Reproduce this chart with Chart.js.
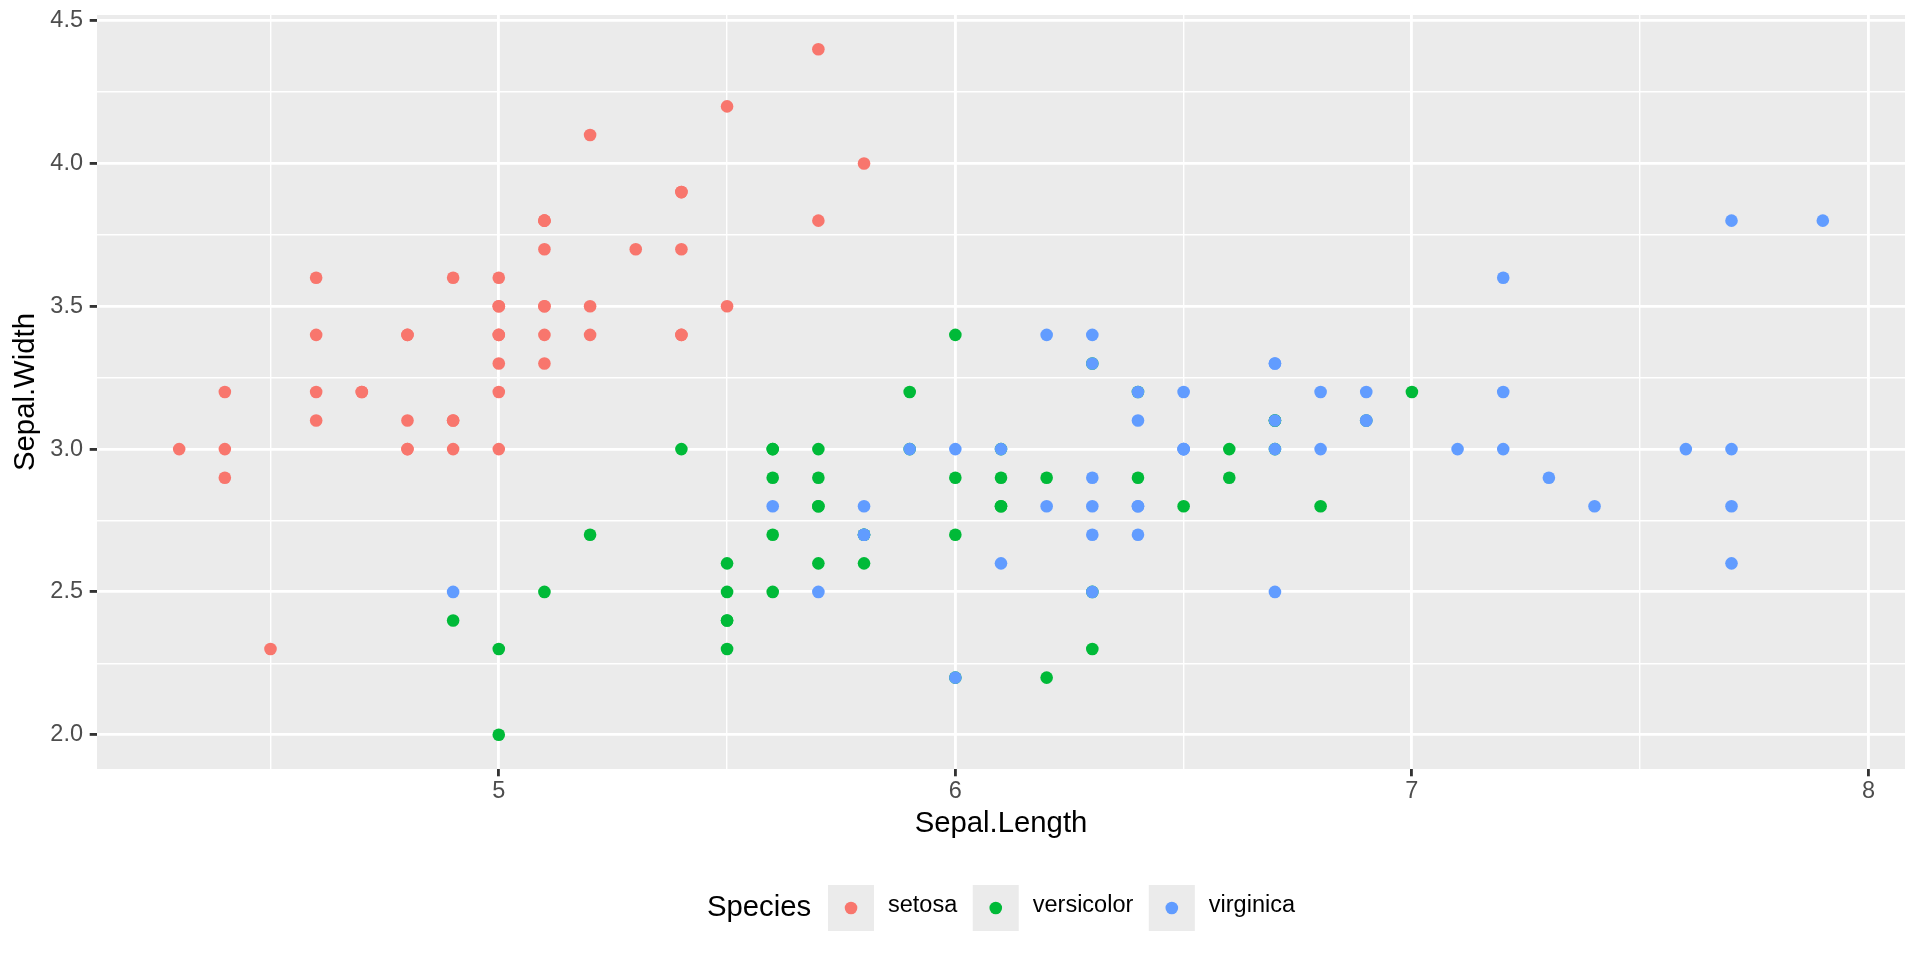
<!DOCTYPE html>
<html>
<head>
<meta charset="utf-8">
<script src="https://cdn.jsdelivr.net/npm/chart.js@4/dist/chart.umd.min.js"></script>
<style>
html,body{margin:0;padding:0;background:#ffffff;}
#c{display:block;}
</style>
</head>
<body>
<canvas id="c" width="1920" height="960"></canvas>
<script>
// ---- data (iris: Sepal.Length / Sepal.Width) ----
const species = ['setosa', 'versicolor', 'virginica'];
const speciesColors = ['#F8766D', '#00BA38', '#619CFF'];

const setosaLength = [5.1,4.9,4.7,4.6,5.0,5.4,4.6,5.0,4.4,4.9,5.4,4.8,4.8,4.3,5.8,5.7,5.4,5.1,5.7,5.1,5.4,5.1,4.6,5.1,4.8,5.0,5.0,5.2,5.2,4.7,4.8,5.4,5.2,5.5,4.9,5.0,5.5,4.9,4.4,5.1,5.0,4.5,4.4,5.0,5.1,4.8,5.1,4.6,5.3,5.0];
const setosaWidth  = [3.5,3.0,3.2,3.1,3.6,3.9,3.4,3.4,2.9,3.1,3.7,3.4,3.0,3.0,4.0,4.4,3.9,3.5,3.8,3.8,3.4,3.7,3.6,3.3,3.4,3.0,3.4,3.5,3.4,3.2,3.1,3.4,4.1,4.2,3.1,3.2,3.5,3.6,3.0,3.4,3.5,2.3,3.2,3.5,3.8,3.0,3.8,3.2,3.7,3.3];

const versicolorLength = [7.0,6.4,6.9,5.5,6.5,5.7,6.3,4.9,6.6,5.2,5.0,5.9,6.0,6.1,5.6,6.7,5.6,5.8,6.2,5.6,5.9,6.1,6.3,6.1,6.4,6.6,6.8,6.7,6.0,5.7,5.5,5.5,5.8,6.0,5.4,6.0,6.7,6.3,5.6,5.5,5.5,6.1,5.8,5.0,5.6,5.7,5.7,6.2,5.1,5.7];
const versicolorWidth  = [3.2,3.2,3.1,2.3,2.8,2.8,3.3,2.4,2.9,2.7,2.0,3.0,2.2,2.9,2.9,3.1,3.0,2.7,2.2,2.5,3.2,2.8,2.5,2.8,2.9,3.0,2.8,3.0,2.9,2.6,2.4,2.4,2.7,2.7,3.0,3.4,3.1,2.3,3.0,2.5,2.6,3.0,2.6,2.3,2.7,3.0,2.9,2.9,2.5,2.8];

const virginicaLength = [6.3,5.8,7.1,6.3,6.5,7.6,4.9,7.3,6.7,7.2,6.5,6.4,6.8,5.7,5.8,6.4,6.5,7.7,7.7,6.0,6.9,5.6,7.7,6.3,6.7,7.2,6.2,6.1,6.4,7.2,7.4,7.9,6.4,6.3,6.1,7.7,6.3,6.4,6.0,6.9,6.7,6.9,5.8,6.8,6.7,6.7,6.3,6.5,6.2,5.9];
const virginicaWidth  = [3.3,2.7,3.0,2.9,3.0,3.0,2.5,2.9,2.5,3.6,3.2,2.7,3.0,2.5,2.8,3.2,3.0,3.8,2.6,2.2,3.2,2.8,2.8,2.7,3.3,3.2,2.8,3.0,2.8,3.0,2.8,3.8,2.8,2.8,2.6,3.0,3.4,3.1,3.0,3.1,3.1,3.1,2.7,3.2,3.3,3.0,2.5,3.0,3.4,3.0];

const xMajorTicks = [5, 6, 7, 8];
const xMinorTicks = [4.5, 5.5, 6.5, 7.5];
const yMajorTicks = [2.0, 2.5, 3.0, 3.5, 4.0, 4.5];
const yMinorTicks = [2.25, 2.75, 3.25, 3.75, 4.25];
const xLimits = [4.12, 8.08];
const yLimits = [1.88, 4.52];
const xTitle = 'Sepal.Length';
const yTitle = 'Sepal.Width';
const legendTitle = 'Species';

// ---- helpers ----
const FAMILY = '"Liberation Sans", Arial, Helvetica, sans-serif';
const toPoints = (xs, ys) => xs.map((x, i) => ({ x: x, y: ys[i] }));
const isIn = (arr, v) => arr.some(a => Math.abs(a - v) < 1e-9);
const lengths = [setosaLength, versicolorLength, virginicaLength];
const widths = [setosaWidth, versicolorWidth, virginicaWidth];

const MAJOR_W = 2.85, MINOR_W = 1.42;

function gridFor(majors) {
  return {
    color: '#FFFFFF',
    lineWidth: ctx => (ctx.tick && isIn(majors, ctx.tick.value)) ? MAJOR_W : MINOR_W,
    drawTicks: true,
    tickLength: 7.3,
    tickWidth: MAJOR_W,
    tickColor: ctx => (ctx.tick && isIn(majors, ctx.tick.value)) ? '#333333' : 'rgba(0,0,0,0)'
  };
}

const panelBg = {
  id: 'panelBg',
  beforeDraw(chart) {
    const { ctx, chartArea: a } = chart;
    ctx.save();
    ctx.fillStyle = '#EBEBEB';
    ctx.fillRect(a.left, a.top, a.right - a.left, a.bottom - a.top);
    ctx.restore();
  }
};

const ggLegend = {
  id: 'ggLegend',
  afterDraw(chart) {
    const ctx = chart.ctx;
    const a = chart.chartArea;
    const cy = 908;
    const box = 46, gapTitle = 16.8, gapKey = 14, gapItem = 15.5;
    ctx.save();
    ctx.font = '29.3px ' + FAMILY;
    const titleW = ctx.measureText(legendTitle).width;
    ctx.font = '23.5px ' + FAMILY;
    const lw = species.map(s => ctx.measureText(s).width);
    const total = titleW + gapTitle + lw.reduce((p, q) => p + q, 0) + species.length * (box + gapKey) + (species.length - 1) * gapItem;
    let x = (a.left + a.right) / 2 - total / 2;
    ctx.textBaseline = 'middle';
    ctx.textAlign = 'left';
    ctx.fillStyle = '#000000';
    ctx.font = '29.3px ' + FAMILY;
    ctx.fillText(legendTitle, x, cy);
    x += titleW + gapTitle;
    species.forEach((s, i) => {
      ctx.fillStyle = '#EBEBEB';
      ctx.fillRect(x, cy - box / 2, box, box);
      ctx.fillStyle = speciesColors[i];
      ctx.beginPath();
      ctx.arc(x + box / 2, cy, 6.3, 0, Math.PI * 2);
      ctx.fill();
      x += box + gapKey;
      ctx.fillStyle = '#000000';
      ctx.font = '23.5px ' + FAMILY;
      ctx.fillText(s, x, cy - 2);
      x += lw[i] + gapItem;
    });
    ctx.restore();
  }
};

Chart.defaults.font.family = FAMILY;

new Chart(document.getElementById('c'), {
  type: 'scatter',
  data: {
    datasets: species.map((s, i) => ({
      label: s,
      data: toPoints(lengths[i], widths[i]),
      backgroundColor: speciesColors[i],
      borderWidth: 0,
      pointRadius: 6.3,
      pointHoverRadius: 6.3,
      order: species.length - i
    }))
  },
  options: {
    responsive: false,
    animation: false,
    devicePixelRatio: 1,
    layout: { padding: { left: 0, top: 15, right: 15, bottom: 119 } },
    plugins: { legend: { display: false }, tooltip: { enabled: false } },
    events: [],
    scales: {
      x: {
        type: 'linear',
        min: xLimits[0],
        max: xLimits[1],
        afterBuildTicks: s => { s.ticks = xMajorTicks.concat(xMinorTicks).sort((p, q) => p - q).map(v => ({ value: v })); },
        afterFit: s => { s.height = 72; },
        ticks: {
          autoSkip: false, maxRotation: 0, minRotation: 0, padding: 0.9,
          color: '#4D4D4D', font: { size: 23.5, family: FAMILY },
          callback: v => isIn(xMajorTicks, v) ? String(v) : ''
        },
        grid: gridFor(xMajorTicks),
        border: { display: false },
        title: { display: true, text: xTitle, color: '#000000', font: { size: 29.3, family: FAMILY }, padding: { top: 0, bottom: 0 } }
      },
      y: {
        type: 'linear',
        min: yLimits[0],
        max: yLimits[1],
        afterBuildTicks: s => { s.ticks = yMajorTicks.concat(yMinorTicks).sort((p, q) => p - q).map(v => ({ value: v })); },
        afterFit: s => { s.width = 97; },
        ticks: {
          autoSkip: false, padding: 6.7,
          color: '#4D4D4D', font: { size: 23.5, family: FAMILY, lineHeight: 0.5 },
          callback: v => isIn(yMajorTicks, v) ? v.toFixed(1) : ''
        },
        grid: gridFor(yMajorTicks),
        border: { display: false },
        title: { display: true, text: yTitle, color: '#000000', font: { size: 29.3, family: FAMILY }, padding: { top: 8.2, bottom: 0 } }
      }
    }
  },
  plugins: [panelBg, ggLegend]
});
</script>
</body>
</html>
